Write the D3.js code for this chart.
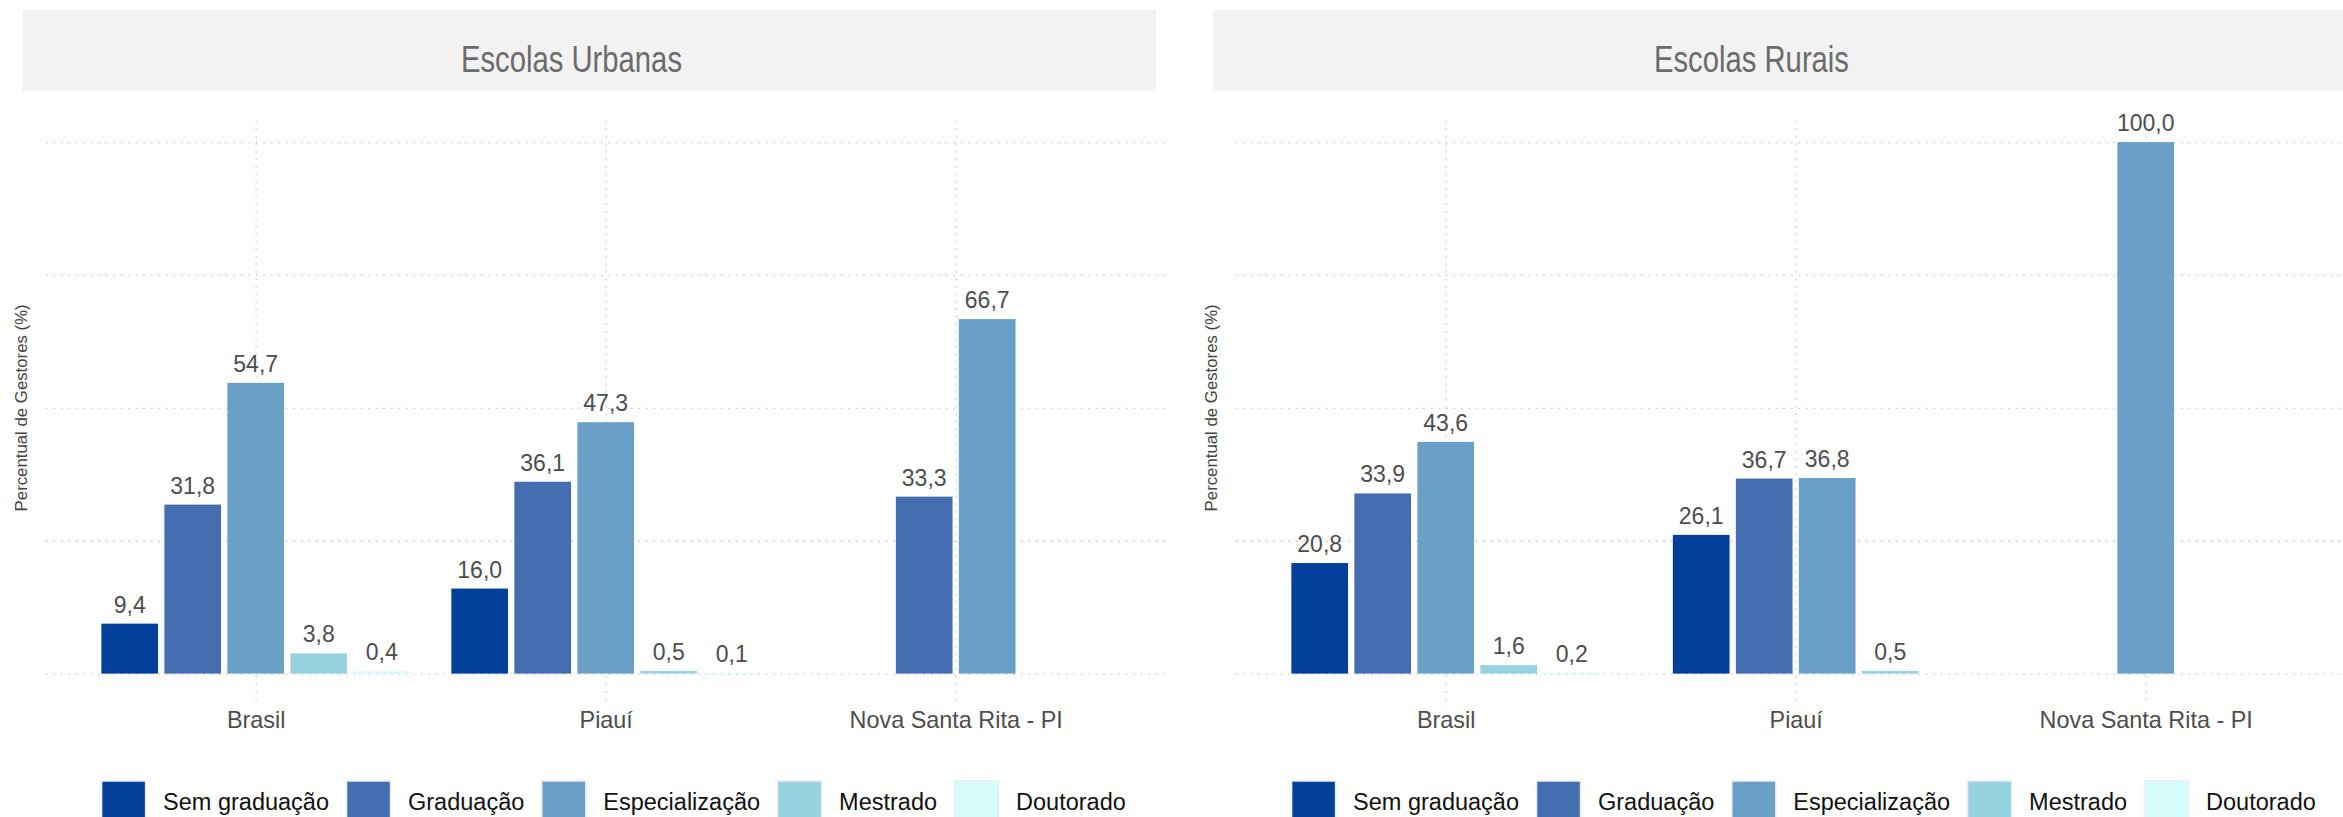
<!DOCTYPE html>
<html><head><meta charset="utf-8">
<script src="https://cdn.jsdelivr.net/npm/d3@7"></script>
<style>
html,body{margin:0;padding:0;background:#fff;overflow:hidden;}
svg{display:block;font-family:"Liberation Sans",Arial,Helvetica,sans-serif;}
</style></head>
<body>
<svg id="chart" width="2343" height="817"></svg>
<script>
// ---- data ----
const categories = ["Brasil", "Piauí", "Nova Santa Rita - PI"];
const seriesNames = ["Sem graduação", "Graduação", "Especialização", "Mestrado", "Doutorado"];
const seriesColors = ["#02409b", "#446eb0", "#6aa0c8", "#96d2e0", "#d6fcfc"];
const panelTitles = ["Escolas Urbanas", "Escolas Rurais"];
// values per category, in series order (null = no bar)
const urbanBrasil = [9.4, 31.8, 54.7, 3.8, 0.4];
const urbanPiaui = [16.0, 36.1, 47.3, 0.5, 0.1];
const urbanNova = [null, 33.3, 66.7, null, null];
const ruralBrasil = [20.8, 33.9, 43.6, 1.6, 0.2];
const ruralPiaui = [26.1, 36.7, 36.8, 0.5, null];
const ruralNova = [null, null, 100.0, null, null];
const yTicks = [0, 25, 50, 75, 100];
const yTitle = "Percentual de Gestores (%)";

const panelsData = [
  [urbanBrasil, urbanPiaui, urbanNova],
  [ruralBrasil, ruralPiaui, ruralNova]
];

// ---- layout ----
const svg = d3.select("#chart");
const panelXs = [45.7, 1235.7];
const panelW = 1120;
const panelTop = 115.5, panelBottom = 700.2;
const titleCenters = [571.5, 1751.5];
const titleWidths = [221, 195];
const stripX = [22.6, 1213];
const stripW = [1133.4, 1140];
const fmtLocale = d3.formatLocale({decimal: ",", thousands: ".", grouping: [3], currency: ["", ""]});
const fmt = fmtLocale.format(".1f");

const gridColor = "#d2d2d2";

panelsData.forEach((pdata, pi) => {
  const px = panelXs[pi];
  const g = svg.append("g");

  // strip
  g.append("rect").attr("x", stripX[pi]).attr("y", 10).attr("width", stripW[pi]).attr("height", 81)
    .attr("fill", "#f2f2f2");
  g.append("text").attr("x", titleCenters[pi]).attr("y", 71.5)
    .attr("text-anchor", "middle")
    .attr("font-size", 37).attr("fill", "#6b6b6b")
    .attr("textLength", titleWidths[pi]).attr("lengthAdjust", "spacingAndGlyphs")
    .text(panelTitles[pi]);

  const x = d3.scalePoint().domain(categories).range([px, px + panelW]).padding(0.6);
  const y = d3.scaleLinear().domain([-5, 105]).range([panelBottom, panelTop]);
  const groupW = x.step() * 0.9;
  const slot = groupW / seriesNames.length;
  const barW = slot * 0.9;

  // horizontal grid
  const yAxis = d3.axisLeft(y).tickValues(yTicks).tickSize(-panelW).tickFormat("");
  const ga = g.append("g").attr("transform", `translate(${px},0)`).call(yAxis);
  ga.select(".domain").remove();
  ga.selectAll(".tick line").attr("stroke", gridColor).attr("stroke-width", 1.3)
    .attr("stroke-dasharray", "2,5.5");

  // vertical grid + x labels
  const xAxis = d3.axisBottom(x).tickSize(-(panelBottom - panelTop));
  const gx = g.append("g").attr("transform", `translate(0,${panelBottom})`).call(xAxis);
  gx.select(".domain").remove();
  gx.selectAll(".tick line").attr("stroke", gridColor).attr("stroke-width", 1.3)
    .attr("stroke-dasharray", "2,5.5");
  gx.selectAll(".tick text").attr("y", 28).attr("dy", null)
    .attr("font-size", 23.4).attr("fill", "#4d4d4d")
    .style("font-family", "'Liberation Sans',Arial,sans-serif");

  // bars (dodge2 style: present bars centred on category)
  const bars = [];
  categories.forEach((c, ci) => {
    const vals = pdata[ci];
    const present = vals.map((v, si) => ({v, si})).filter(d => d.v !== null);
    const n = present.length;
    present.forEach((d, k) => {
      const cx = x(c) + (k - (n - 1) / 2) * slot;
      bars.push({cx, v: d.v, si: d.si});
    });
  });

  g.selectAll("rect.bar").data(bars).join("rect").attr("class", "bar")
    .attr("x", d => d.cx - barW / 2)
    .attr("width", barW)
    .attr("y", d => y(d.v))
    .attr("height", d => y(0) - y(d.v))
    .attr("fill", d => seriesColors[d.si]);

  g.selectAll("text.val").data(bars).join("text").attr("class", "val")
    .attr("x", d => d.cx)
    .attr("y", d => y(d.v) - 11)
    .attr("text-anchor", "middle")
    .attr("font-size", 23).attr("fill", "#4d4d4d")
    .text(d => fmt(d.v));

  // y title
  const yc = (panelTop + panelBottom) / 2;
  g.append("text")
    .attr("transform", `translate(${px - 24},${yc}) rotate(-90)`)
    .attr("text-anchor", "middle").attr("dominant-baseline", "central")
    .attr("font-size", 16.8).attr("fill", "#444")
    .text(yTitle);

  // legend
  const lg = g.append("g");
  const keyW = 44, keyH = 45, gap = 17.5;
  const items = seriesNames.map((name, si) => {
    const t = lg.append("text").attr("font-size", 23.5).attr("fill", "#111")
      .attr("y", 810).text(name);
    return {name, si, t, w: t.node().getComputedTextLength()};
  });
  const total = items.reduce((s, it) => s + keyW + gap + it.w, 0) + gap * (items.length - 1);
  let cur = px + 568 - total / 2;
  items.forEach(it => {
    lg.append("rect").attr("x", cur).attr("y", 781).attr("width", keyW).attr("height", keyH)
      .attr("fill", seriesColors[it.si]).attr("stroke", "#ececec").attr("stroke-width", 1.5);
    it.t.attr("x", cur + keyW + gap);
    cur += keyW + gap + it.w + gap;
  });
});
</script>
</body></html>
